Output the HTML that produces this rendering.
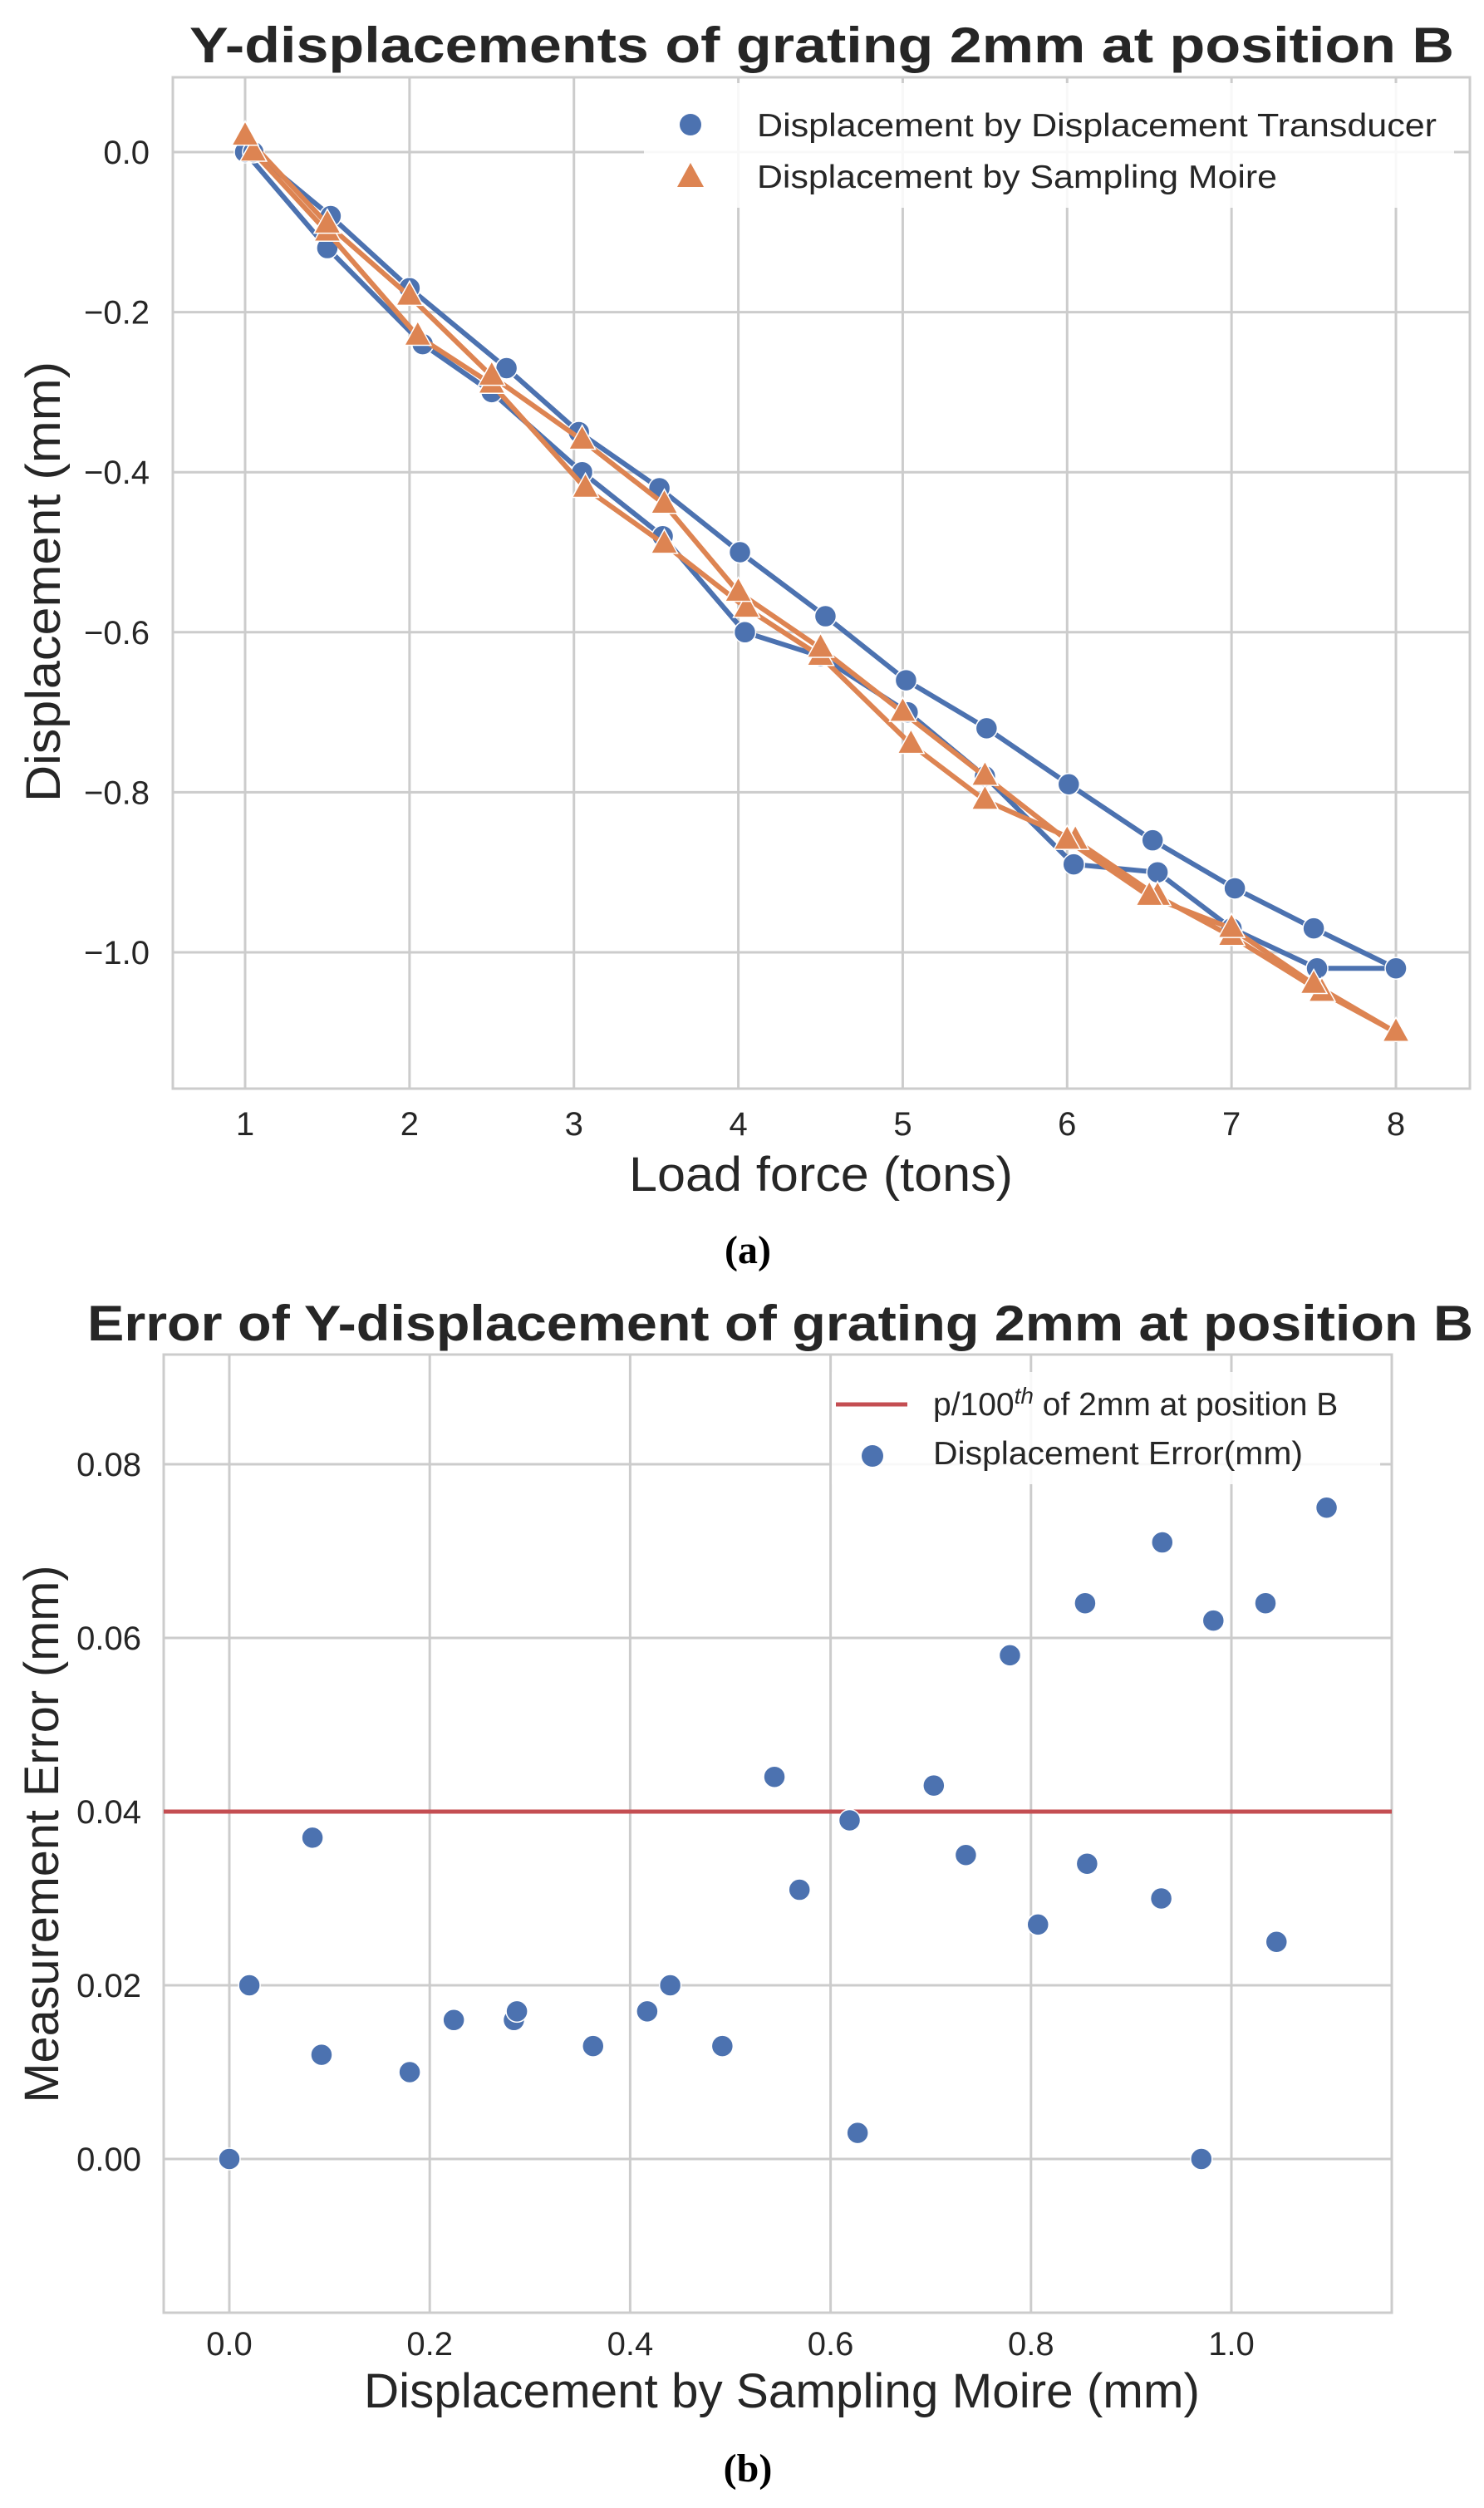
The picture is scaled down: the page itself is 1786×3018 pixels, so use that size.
<!DOCTYPE html>
<html><head><meta charset="utf-8"><style>
html,body{margin:0;padding:0;background:#fff;}
svg{display:block;font-family:"Liberation Sans",Arial,sans-serif;}
</style></head><body>
<svg id="fig" width="1786" height="3018" viewBox="0 0 1786 3018" xmlns="http://www.w3.org/2000/svg">
<rect width="1786" height="3018" fill="#fff"/>
<g id="chartA"></g>
<g id="chartB"></g>
<text x="900" y="1520" text-anchor="middle" font-family="Liberation Serif,serif" font-weight="bold" font-size="48" fill="#000">(a)</text>
<text x="900" y="2986" text-anchor="middle" font-family="Liberation Serif,serif" font-weight="bold" font-size="48" fill="#000">(b)</text>
</svg>
<script>
// Chart A data
const aXTicks = [1,2,3,4,5,6,7,8];
const aYTicks = [0.0,-0.2,-0.4,-0.6,-0.8,-1.0];
const aYTickLabels = ["0.0","\u22120.2","\u22120.4","\u22120.6","\u22120.8","\u22121.0"];
const transducerX = [1.0,1.5,2.08,2.5,3.05,3.54,4.04,4.5,5.03,5.5,6.04,6.55,7.0,7.52,8.0,7.5,7.02,6.52,6.01,5.51,5.02,4.53,4.01,3.52,3.03,2.59,2.0,1.52,1.05];
const transducerY = [0.0,-0.12,-0.24,-0.30,-0.40,-0.48,-0.60,-0.63,-0.70,-0.78,-0.89,-0.90,-0.97,-1.02,-1.02,-0.97,-0.92,-0.86,-0.79,-0.72,-0.66,-0.58,-0.50,-0.42,-0.35,-0.27,-0.17,-0.08,0.0];
const moireX = [1.05,1.5,2.05,2.5,3.07,3.55,4.05,4.5,5.05,5.5,6.05,6.55,7.0,7.55,8.0,7.5,7.0,6.5,6.0,5.5,5.0,4.5,4.0,3.55,3.05,2.5,2.0,1.5,1.0];
const moireY = [0.0,-0.10,-0.23,-0.29,-0.42,-0.49,-0.57,-0.63,-0.74,-0.81,-0.86,-0.93,-0.98,-1.05,-1.10,-1.04,-0.97,-0.93,-0.86,-0.78,-0.70,-0.62,-0.55,-0.44,-0.36,-0.28,-0.18,-0.09,0.02];
// Chart B data
const bXTicks = [0.0,0.2,0.4,0.6,0.8,1.0];
const bXTickLabels = ["0.0","0.2","0.4","0.6","0.8","1.0"];
const bYTicks = [0.00,0.02,0.04,0.06,0.08];
const bYTickLabels = ["0.00","0.02","0.04","0.06","0.08"];
const errX = [0,0.02,0.083,0.092,0.18,0.224,0.284,0.287,0.363,0.417,0.44,0.492,0.544,0.569,0.619,0.627,0.703,0.735,0.779,0.807,0.854,0.856,0.930,0.931,0.970,0.982,1.034,1.045,1.095];
const errY = [0,0.020,0.037,0.012,0.010,0.016,0.016,0.017,0.013,0.017,0.020,0.013,0.044,0.031,0.039,0.003,0.043,0.035,0.058,0.027,0.064,0.034,0.030,0.071,0.000,0.062,0.064,0.025,0.075];
const thresholdValue = [0.04];

const NS="http://www.w3.org/2000/svg";
const BLUE="#4c72b0", ORANGE="#dd8452", RED="#c44e52", GRID="#cccccc", TXT="#262626";
function mk(parent, tag, attrs, text){
  const e=document.createElementNS(NS,tag);
  for(const k in attrs) e.setAttribute(k,attrs[k]);
  if(text!==undefined) e.textContent=text;
  parent.appendChild(e); return e;
}

// ---------- Chart A ----------
(function(){
  const g=document.getElementById('chartA');
  const L=208,R=1769,T=93,B=1310;
  const sx=v=>295+(v-1)*197.86;
  const sy=v=>183+(-v)*963;
  for(const t of aXTicks){
    const l=mk(g,'line',{x1:sx(t),x2:sx(t),y1:T,y2:B,stroke:GRID,'stroke-width':3});
    
    
    const tx=mk(g,'text',{x:sx(t),y:1366,'text-anchor':'middle','font-size':40,fill:TXT},String(t));
    
    
  }
  aYTicks.forEach((t,i)=>{
    const l=mk(g,'line',{x1:L,x2:R,y1:sy(t),y2:sy(t),stroke:GRID,'stroke-width':3});
    
    
    const tx=mk(g,'text',{x:180,y:sy(t)+14,'text-anchor':'end','font-size':40,fill:TXT},aYTickLabels[i]);
    
    
  });
  const fr=mk(g,'rect',{x:L,y:T,width:R-L,height:B-T,fill:'none',stroke:GRID,'stroke-width':3});
  
  
  const lb=mk(g,'rect',{x:775,y:100,width:975,height:150,fill:'#fff','fill-opacity':0.85});
  
  
  const bp=transducerX.map((x,i)=>sx(x)+','+sy(transducerY[i])).join(' ');
  const bl=mk(g,'polyline',{points:bp,fill:'none',stroke:BLUE,'stroke-width':6,'stroke-linejoin':'round'});
  
  
  transducerX.forEach((x,i)=>{
    const c=mk(g,'circle',{cx:sx(x),cy:sy(transducerY[i]),r:13,fill:BLUE,stroke:'#fff','stroke-width':1.5});
    
    
  });
  const op=moireX.map((x,i)=>sx(x)+','+sy(moireY[i])).join(' ');
  const ol=mk(g,'polyline',{points:op,fill:'none',stroke:ORANGE,'stroke-width':6,'stroke-linejoin':'round'});
  
  
  moireX.forEach((x,i)=>{
    const cx=sx(x), cy=sy(moireY[i]);
    const p=mk(g,'polygon',{points:`${cx},${cy-18} ${cx-16},${cy+11} ${cx+16},${cy+11}`,fill:ORANGE,stroke:'#fff','stroke-width':1.5});
    
    
  });
  const le1=mk(g,'circle',{cx:831,cy:150,r:13,fill:BLUE});
  
  
  const lt1=mk(g,'text',{x:911,y:164,'font-size':39,fill:TXT,textLength:818,lengthAdjust:'spacingAndGlyphs'},'Displacement by Displacement Transducer');
  
  
  const le2=mk(g,'polygon',{points:'831,196 815,225 847,225',fill:ORANGE});
  
  
  const lt2=mk(g,'text',{x:911,y:226,'font-size':39,fill:TXT,textLength:626,lengthAdjust:'spacingAndGlyphs'},'Displacement by Sampling Moire');
  
  
  const ti=mk(g,'text',{x:228,y:75,'font-size':60,'font-weight':'bold',fill:TXT,textLength:1522,lengthAdjust:'spacingAndGlyphs'},'Y-displacements of grating 2mm at position B');
  
  
  const xl=mk(g,'text',{x:757,y:1433,'font-size':58,fill:TXT,textLength:462,lengthAdjust:'spacingAndGlyphs'},'Load force (tons)');
  
  
  const yl=mk(g,'text',{x:0,y:0,'font-size':58,fill:TXT,'text-anchor':'middle',textLength:530,lengthAdjust:'spacingAndGlyphs',transform:'translate(72,700) rotate(-90)'},'Displacement (mm)');
  
  
})();

// ---------- Chart B ----------
(function(){
  const g=document.getElementById('chartB');
  const L=197,R=1675,T=1630,B=2783;
  const sx=v=>276+v*1206;
  const sy=v=>2598-v*10450;
  bXTicks.forEach((t,i)=>{
    const l=mk(g,'line',{x1:sx(t),x2:sx(t),y1:T,y2:B,stroke:GRID,'stroke-width':3});
    
    
    const tx=mk(g,'text',{x:sx(t),y:2834,'text-anchor':'middle','font-size':40,fill:TXT},bXTickLabels[i]);
    
    
  });
  bYTicks.forEach((t,i)=>{
    const l=mk(g,'line',{x1:L,x2:R,y1:sy(t),y2:sy(t),stroke:GRID,'stroke-width':3});
    
    
    const tx=mk(g,'text',{x:170,y:sy(t)+14,'text-anchor':'end','font-size':40,fill:TXT},bYTickLabels[i]);
    
    
  });
  const fr=mk(g,'rect',{x:L,y:T,width:R-L,height:B-T,fill:'none',stroke:GRID,'stroke-width':3});
  
  
  const lb=mk(g,'rect',{x:1001,y:1651,width:660,height:135,fill:'#fff','fill-opacity':0.85});
  
  
  const th=mk(g,'line',{x1:L,x2:R,y1:sy(thresholdValue[0]),y2:sy(thresholdValue[0]),stroke:RED,'stroke-width':5});
  
  
  errX.forEach((x,i)=>{
    const c=mk(g,'circle',{cx:sx(x),cy:sy(errY[i]),r:13,fill:BLUE,stroke:'#fff','stroke-width':1.5});
    
    
  });
  const le1=mk(g,'line',{x1:1006,x2:1092,y1:1690,y2:1690,stroke:RED,'stroke-width':5});
  
  
  const lt1=mk(g,'text',{x:1123,y:1703,'font-size':39,fill:TXT},'p/100');
  
  
  mk(lt1,'tspan',{dy:-14,'font-size':28,'font-style':'italic'},'th');
  mk(lt1,'tspan',{dy:14},' of 2mm at position B');
  const le2=mk(g,'circle',{cx:1050,cy:1752,r:13,fill:BLUE});
  
  
  const lt2=mk(g,'text',{x:1123,y:1762,'font-size':39,fill:TXT,textLength:445,lengthAdjust:'spacingAndGlyphs'},'Displacement Error(mm)');
  
  
  const ti=mk(g,'text',{x:105,y:1613,'font-size':60,'font-weight':'bold',fill:TXT,textLength:1668,lengthAdjust:'spacingAndGlyphs'},'Error of Y-displacement of grating 2mm at position B');
  
  
  const xl=mk(g,'text',{x:438,y:2897,'font-size':58,fill:TXT,textLength:1006,lengthAdjust:'spacingAndGlyphs'},'Displacement by Sampling Moire (mm)');
  
  
  const yl=mk(g,'text',{x:0,y:0,'font-size':58,fill:TXT,'text-anchor':'middle',textLength:647,lengthAdjust:'spacingAndGlyphs',transform:'translate(70,2207) rotate(-90)'},'Measurement Error (mm)');
  
  
})();
</script>
</body></html>
